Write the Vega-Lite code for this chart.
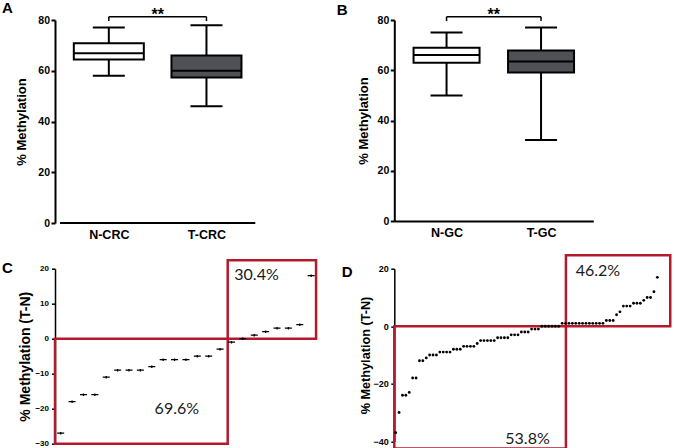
{
  "$schema": "https://vega.github.io/schema/vega-lite/v6.json",
  "background": "white",
  "padding": {"left": 2, "top": 1, "right": 0, "bottom": 0},
  "config": {"view": {"stroke": null}, "font": "Liberation Sans", "axis": {"labelOverlap": false}},
  "datasets": {
    "boxA": [
      {"g": 1, "grp": "Normal", "min": 58, "q1": 64.4, "med": 66.9, "q3": 70.8, "max": 77},
      {"g": 2, "grp": "Tumor", "min": 46, "q1": 57.3, "med": 60, "q3": 66, "max": 77.9}
    ],
    "boxB": [
      {"g": 1, "grp": "Normal", "min": 50, "q1": 63, "med": 66.1, "q3": 69, "max": 75},
      {"g": 2, "grp": "Tumor", "min": 32.2, "q1": 59.1, "med": 63.5, "q3": 67.9, "max": 77}
    ],
    "sig": [{"a": 1, "b": 2, "mid": 1.5, "top": 81.3, "low": 79.6, "star": 80, "label": "**", "x0": 0.5, "x1": 2.5, "base": 0}],
    "diffC": [
      {"i": 1, "v": -27}, {"i": 2, "v": -18}, {"i": 3, "v": -16}, {"i": 4, "v": -16},
      {"i": 5, "v": -11}, {"i": 6, "v": -9}, {"i": 7, "v": -9}, {"i": 8, "v": -9},
      {"i": 9, "v": -8}, {"i": 10, "v": -6}, {"i": 11, "v": -6}, {"i": 12, "v": -6},
      {"i": 13, "v": -5}, {"i": 14, "v": -5}, {"i": 15, "v": -3}, {"i": 16, "v": -1},
      {"i": 17, "v": 0}, {"i": 18, "v": 1}, {"i": 19, "v": 2}, {"i": 20, "v": 3},
      {"i": 21, "v": 3}, {"i": 22, "v": 4}, {"i": 23, "v": 18}
    ],
    "boxesC": [
      {"x1": 0.5, "x2": 15.67, "y1": -30, "y2": 0},
      {"x1": 15.67, "x2": 23.43, "y1": 0, "y2": 22.4}
    ],
    "pctC": [
      {"x": 18.2, "y": 18.1, "label": "30.4%"},
      {"x": 11.2, "y": -20.2, "label": "69.6%"}
    ],
    "diffD": [
      {"i": 1, "v": -37}, {"i": 2, "v": -30}, {"i": 3, "v": -24}, {"i": 4, "v": -24},
      {"i": 5, "v": -23}, {"i": 6, "v": -18}, {"i": 7, "v": -18}, {"i": 8, "v": -12},
      {"i": 9, "v": -12}, {"i": 10, "v": -11}, {"i": 11, "v": -10}, {"i": 12, "v": -10},
      {"i": 13, "v": -10}, {"i": 14, "v": -9}, {"i": 15, "v": -9}, {"i": 16, "v": -9},
      {"i": 17, "v": -9}, {"i": 18, "v": -8}, {"i": 19, "v": -8}, {"i": 20, "v": -8},
      {"i": 21, "v": -7}, {"i": 22, "v": -7}, {"i": 23, "v": -7}, {"i": 24, "v": -7},
      {"i": 25, "v": -6}, {"i": 26, "v": -5}, {"i": 27, "v": -5}, {"i": 28, "v": -5},
      {"i": 29, "v": -5}, {"i": 30, "v": -5}, {"i": 31, "v": -4}, {"i": 32, "v": -4},
      {"i": 33, "v": -4}, {"i": 34, "v": -4}, {"i": 35, "v": -3}, {"i": 36, "v": -3},
      {"i": 37, "v": -3}, {"i": 38, "v": -2}, {"i": 39, "v": -2}, {"i": 40, "v": -2},
      {"i": 41, "v": -1}, {"i": 42, "v": -1}, {"i": 43, "v": -1}, {"i": 44, "v": 0},
      {"i": 45, "v": 0}, {"i": 46, "v": 0}, {"i": 47, "v": 0}, {"i": 48, "v": 0},
      {"i": 49, "v": 0}, {"i": 50, "v": 1}, {"i": 51, "v": 1}, {"i": 52, "v": 1},
      {"i": 53, "v": 1}, {"i": 54, "v": 1}, {"i": 55, "v": 1}, {"i": 56, "v": 1},
      {"i": 57, "v": 1}, {"i": 58, "v": 1}, {"i": 59, "v": 1}, {"i": 60, "v": 1},
      {"i": 61, "v": 1}, {"i": 62, "v": 1}, {"i": 63, "v": 2}, {"i": 64, "v": 2},
      {"i": 65, "v": 2}, {"i": 66, "v": 4}, {"i": 67, "v": 5}, {"i": 68, "v": 7},
      {"i": 69, "v": 7}, {"i": 70, "v": 7}, {"i": 71, "v": 8}, {"i": 72, "v": 8},
      {"i": 73, "v": 8}, {"i": 74, "v": 9}, {"i": 75, "v": 10}, {"i": 76, "v": 10},
      {"i": 77, "v": 12}, {"i": 78, "v": 17}
    ],
    "boxesD": [
      {"x1": 0.6, "x2": 51.1, "y1": -42.5, "y2": 0},
      {"x1": 51.1, "x2": 81.8, "y1": 0, "y2": 24.7}
    ],
    "pctD": [
      {"x": 60.5, "y": 19.2, "label": "46.2%"},
      {"x": 39.8, "y": -39.2, "label": "53.8%"}
    ]
  },
  "columns": 2,
  "align": "none",
  "bounds": "flush",
  "spacing": {"row": 45.7, "column": 76.3},
  "concat": [
    {
      "width": 263,
      "height": 203,
      "title": {"text": "A", "anchor": "start", "frame": "group", "fontSize": 15, "fontWeight": "bold", "color": "black", "dx": -53, "dy": 21.4, "offset": 0, "baseline": "alphabetic", "align": "left"},
      "encoding": {
        "x": {"type": "quantitative", "scale": {"domain": [0.5, 3.091], "nice": false, "zero": false},
          "axis": {"values": [1, 2], "tickCount": 10, "labelExpr": "datum.value == 1 ? 'N-CRC' : 'T-CRC'", "title": null, "grid": false, "ticks": false, "domain": false, "labelOverlap": false, "labelFontSize": 12.5, "labelFontWeight": "bold", "labelColor": "black", "labelPadding": 5}}
      },
      "layer": [
        {"data": {"name": "sig"}, "mark": {"type": "rule", "color": "black", "strokeWidth": 2},
          "encoding": {"x": {"field": "x0", "type": "quantitative"}, "x2": {"field": "x1"},
            "y": {"field": "base", "type": "quantitative", "scale": {"domain": [0, 80], "nice": false},
              "axis": {"values": [0, 20, 40, 60, 80], "tickCount": 10, "title": "% Methylation", "grid": false, "labelOverlap": false, "tickSize": 4, "tickWidth": 2, "tickColor": "black", "domainColor": "black", "domainWidth": 2, "labelFontSize": 10.5, "labelFontWeight": "bold", "labelColor": "black", "labelPadding": 1.5, "titleFontSize": 13, "titleFontWeight": "bold", "titleColor": "black", "titleX": -33.3, "titleBaseline": "middle"}}}},
        {"data": {"name": "boxA"}, "mark": {"type": "rule", "color": "black", "strokeWidth": 2},
          "encoding": {"x": {"field": "g", "type": "quantitative"}, "y": {"field": "min", "type": "quantitative"}, "y2": {"field": "max"}}},
        {"data": {"name": "boxA"}, "mark": {"type": "tick", "orient": "horizontal", "color": "black", "size": 32, "thickness": 2, "opacity": 1},
          "encoding": {"x": {"field": "g", "type": "quantitative"}, "y": {"field": "min", "type": "quantitative"}}},
        {"data": {"name": "boxA"}, "mark": {"type": "tick", "orient": "horizontal", "color": "black", "size": 32, "thickness": 2, "opacity": 1},
          "encoding": {"x": {"field": "g", "type": "quantitative"}, "y": {"field": "max", "type": "quantitative"}}},
        {"data": {"name": "boxA"}, "mark": {"type": "bar", "size": 70, "stroke": "black", "strokeWidth": 2},
          "encoding": {"x": {"field": "g", "type": "quantitative"}, "y": {"field": "q1", "type": "quantitative"}, "y2": {"field": "q3"},
            "fill": {"field": "grp", "type": "nominal", "scale": {"domain": ["Normal", "Tumor"], "range": ["white", "#4f5157"]}, "legend": null}}},
        {"data": {"name": "boxA"}, "mark": {"type": "tick", "orient": "horizontal", "color": "black", "size": 70, "thickness": 2, "opacity": 1},
          "encoding": {"x": {"field": "g", "type": "quantitative"}, "y": {"field": "med", "type": "quantitative"}}},
        {"data": {"name": "sig"}, "mark": {"type": "rule", "color": "black", "strokeWidth": 1.5},
          "encoding": {"x": {"field": "a", "type": "quantitative"}, "x2": {"field": "b"}, "y": {"field": "top", "type": "quantitative"}}},
        {"data": {"name": "sig"}, "mark": {"type": "rule", "color": "black", "strokeWidth": 1.5},
          "encoding": {"x": {"field": "a", "type": "quantitative"}, "y": {"field": "low", "type": "quantitative"}, "y2": {"field": "top"}}},
        {"data": {"name": "sig"}, "mark": {"type": "rule", "color": "black", "strokeWidth": 1.5},
          "encoding": {"x": {"field": "b", "type": "quantitative"}, "y": {"field": "low", "type": "quantitative"}, "y2": {"field": "top"}}},
        {"data": {"name": "sig"}, "mark": {"type": "text", "fontSize": 16, "fontWeight": "bold", "color": "black", "baseline": "alphabetic"},
          "encoding": {"x": {"field": "mid", "type": "quantitative"}, "y": {"field": "star", "type": "quantitative"}, "text": {"field": "label"}}}
      ]
    },
    {
      "width": 199,
      "height": 201,
      "title": {"text": "B", "anchor": "start", "frame": "group", "fontSize": 15, "fontWeight": "bold", "color": "black", "dx": -57.6, "dy": 23, "offset": 0, "baseline": "alphabetic", "align": "left"},
      "encoding": {
        "x": {"type": "quantitative", "scale": {"domain": [0.5, 2.5], "nice": false, "zero": false},
          "axis": {"values": [1, 2], "tickCount": 10, "labelExpr": "datum.value == 1 ? 'N-GC' : 'T-GC'", "title": null, "grid": false, "ticks": false, "labelOverlap": false, "domainColor": "black", "domainWidth": 2, "labelFontSize": 12.5, "labelFontWeight": "bold", "labelColor": "black", "labelPadding": 5}}
      },
      "layer": [
        {"data": {"name": "boxB"}, "mark": {"type": "rule", "color": "black", "strokeWidth": 2},
          "encoding": {"x": {"field": "g", "type": "quantitative"},
            "y": {"field": "min", "type": "quantitative", "scale": {"domain": [0, 80], "nice": false},
              "axis": {"values": [0, 20, 40, 60, 80], "tickCount": 10, "title": "% Methylation", "grid": false, "labelOverlap": false, "tickSize": 4, "tickWidth": 2, "tickColor": "black", "domainColor": "black", "domainWidth": 2, "labelFontSize": 10.5, "labelFontWeight": "bold", "labelColor": "black", "labelPadding": 1.5, "titleFontSize": 13, "titleFontWeight": "bold", "titleColor": "black", "titleX": -31, "titleBaseline": "middle"}},
            "y2": {"field": "max"}}},
        {"data": {"name": "boxB"}, "mark": {"type": "tick", "orient": "horizontal", "color": "black", "size": 32, "thickness": 2, "opacity": 1},
          "encoding": {"x": {"field": "g", "type": "quantitative"}, "y": {"field": "min", "type": "quantitative"}}},
        {"data": {"name": "boxB"}, "mark": {"type": "tick", "orient": "horizontal", "color": "black", "size": 32, "thickness": 2, "opacity": 1},
          "encoding": {"x": {"field": "g", "type": "quantitative"}, "y": {"field": "max", "type": "quantitative"}}},
        {"data": {"name": "boxB"}, "mark": {"type": "bar", "size": 66, "stroke": "black", "strokeWidth": 2},
          "encoding": {"x": {"field": "g", "type": "quantitative"}, "y": {"field": "q1", "type": "quantitative"}, "y2": {"field": "q3"},
            "fill": {"field": "grp", "type": "nominal", "scale": {"domain": ["Normal", "Tumor"], "range": ["white", "#4f5157"]}, "legend": null}}},
        {"data": {"name": "boxB"}, "mark": {"type": "tick", "orient": "horizontal", "color": "black", "size": 66, "thickness": 2, "opacity": 1},
          "encoding": {"x": {"field": "g", "type": "quantitative"}, "y": {"field": "med", "type": "quantitative"}}},
        {"data": {"name": "sig"}, "mark": {"type": "rule", "color": "black", "strokeWidth": 1.5},
          "encoding": {"x": {"field": "a", "type": "quantitative"}, "x2": {"field": "b"}, "y": {"field": "top", "type": "quantitative"}}},
        {"data": {"name": "sig"}, "mark": {"type": "rule", "color": "black", "strokeWidth": 1.5},
          "encoding": {"x": {"field": "a", "type": "quantitative"}, "y": {"field": "low", "type": "quantitative"}, "y2": {"field": "top"}}},
        {"data": {"name": "sig"}, "mark": {"type": "rule", "color": "black", "strokeWidth": 1.5},
          "encoding": {"x": {"field": "b", "type": "quantitative"}, "y": {"field": "low", "type": "quantitative"}, "y2": {"field": "top"}}},
        {"data": {"name": "sig"}, "mark": {"type": "text", "fontSize": 16, "fontWeight": "bold", "color": "black", "baseline": "alphabetic"},
          "encoding": {"x": {"field": "mid", "type": "quantitative"}, "y": {"field": "star", "type": "quantitative"}, "text": {"field": "label"}}}
      ]
    },
    {
      "width": 263,
      "height": 175,
      "title": {"text": "C", "anchor": "start", "frame": "group", "fontSize": 15, "fontWeight": "bold", "color": "black", "dx": -53, "dy": 28.7, "offset": 0, "baseline": "alphabetic", "align": "left"},
      "layer": [
        {"data": {"name": "boxesC"}, "mark": {"type": "rect", "filled": false, "stroke": "#b31b2c", "strokeWidth": 2.5},
          "encoding": {
            "x": {"field": "x1", "type": "quantitative", "scale": {"domain": [0.5, 23.6], "nice": false, "zero": false}, "axis": null},
            "x2": {"field": "x2"},
            "y": {"field": "y1", "type": "quantitative", "scale": {"domain": [-30, 20], "nice": false},
              "axis": {"values": [-30, -20, -10, 0, 10, 20], "tickCount": 10, "title": "% Methylation (T-N)", "grid": false, "labelOverlap": false, "tickSize": 3.5, "tickWidth": 1.5, "tickColor": "black", "domainColor": "black", "domainWidth": 1.5, "labelFontSize": 8, "labelFontWeight": "bold", "labelColor": "black", "labelPadding": 3, "titleFontSize": 14, "titleFontWeight": "bold", "titleColor": "black", "titleX": -30, "titleBaseline": "middle"}},
            "y2": {"field": "y2"}}},
        {"data": {"name": "diffC"}, "mark": {"type": "point", "shape": "M-1,0L1,0M0,-0.35L0,0.35", "filled": false, "stroke": "black", "strokeWidth": 1.3, "size": 49, "opacity": 1},
          "encoding": {"x": {"field": "i", "type": "quantitative"}, "y": {"field": "v", "type": "quantitative"}}},
        {"data": {"name": "pctC"}, "mark": {"type": "text", "font": "Lato", "fontSize": 16, "color": "#1a1a1a"},
          "encoding": {"x": {"field": "x", "type": "quantitative"}, "y": {"field": "y", "type": "quantitative"}, "text": {"field": "label"}}}
      ]
    },
    {
      "width": 261,
      "height": 172.6,
      "title": {"text": "D", "anchor": "start", "frame": "group", "fontSize": 15, "fontWeight": "bold", "color": "black", "dx": -52.6, "dy": 38.3, "offset": 0, "baseline": "alphabetic", "align": "left"},
      "layer": [
        {"data": {"name": "boxesD"}, "mark": {"type": "rect", "filled": false, "stroke": "#b31b2c", "strokeWidth": 2.5},
          "encoding": {
            "x": {"field": "x1", "type": "quantitative", "scale": {"domain": [0.6, 77.4], "nice": false, "zero": false}, "axis": null},
            "x2": {"field": "x2"},
            "y": {"field": "y1", "type": "quantitative", "scale": {"domain": [-40, 20], "nice": false},
              "axis": {"values": [-40, -20, 0, 20], "tickCount": 10, "title": "% Methylation (T-N)", "grid": false, "labelOverlap": false, "tickSize": 3.5, "tickWidth": 1.5, "tickColor": "black", "domainColor": "black", "domainWidth": 1.5, "labelFontSize": 9, "labelFontWeight": "bold", "labelColor": "black", "labelPadding": 2.5, "titleFontSize": 12.7, "titleFontWeight": "bold", "titleColor": "black", "titleX": -29.3, "titleBaseline": "middle"}},
            "y2": {"field": "y2"}}},
        {"data": {"name": "diffD"}, "mark": {"type": "circle", "color": "black", "size": 8, "opacity": 1},
          "encoding": {"x": {"field": "i", "type": "quantitative"}, "y": {"field": "v", "type": "quantitative"}}},
        {"data": {"name": "pctD"}, "mark": {"type": "text", "font": "Lato", "fontSize": 16, "color": "#1a1a1a"},
          "encoding": {"x": {"field": "x", "type": "quantitative"}, "y": {"field": "y", "type": "quantitative"}, "text": {"field": "label"}}}
      ]
    }
  ]
}
